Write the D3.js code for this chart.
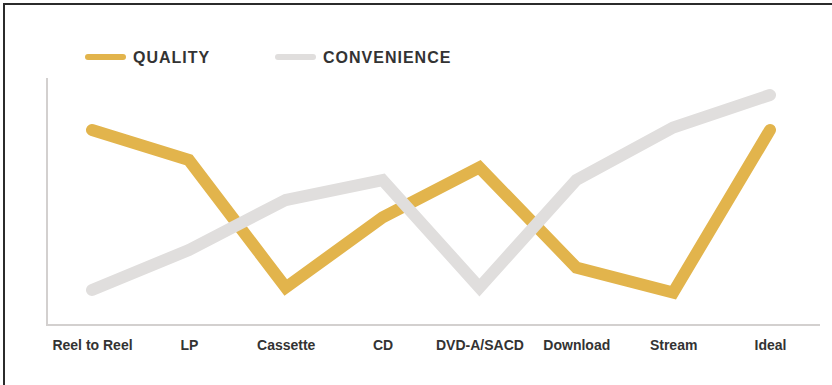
<!DOCTYPE html>
<html>
<head>
<meta charset="utf-8">
<script src="https://cdn.jsdelivr.net/npm/d3@7"></script>
<style>
  body { margin: 0; background: #fff; }
  svg { display: block; font-family: "Liberation Sans", Arial, sans-serif; }
</style>
</head>
<body>
<div id="chart"></div>
<script>
// Data (arbitrary 0-10 scale)
const formats = ["Reel to Reel", "LP", "Cassette", "CD", "DVD-A/SACD", "Download", "Stream", "Ideal"];
const quality = [7.8, 6.6, 1.5, 4.3, 6.3, 2.3, 1.3, 7.8];
const convenience = [1.4, 3.0, 5.0, 5.8, 1.5, 5.8, 7.9, 9.2];
const seriesNames = ["QUALITY", "CONVENIENCE"];

const width = 832, height = 385;
const colors = { QUALITY: "#e2b44c", CONVENIENCE: "#e0dedd" };

const svg = d3.select('#chart').append('svg')
  .attr('width', width)
  .attr('height', height);

// frame (top + left edge only)
svg.append('path')
  .attr('d', `M4,${height} V4 H${width}`)
  .attr('fill', 'none')
  .attr('stroke', '#2b2b2b')
  .attr('stroke-width', 2);

const x = d3.scalePoint().domain(formats).range([92, 770]);
const y = d3.scaleLinear().domain([0, 10]).range([325, 75]);

// axis lines
svg.append('path')
  .attr('d', `M47,78 V325 H820`)
  .attr('fill', 'none')
  .attr('stroke', '#d3d0cf')
  .attr('stroke-width', 2);

// category labels
const xAxis = d3.axisBottom(x).tickSize(0).tickPadding(0);
const gx = svg.append('g')
  .attr('transform', 'translate(0,340)')
  .call(xAxis);
gx.select('.domain').remove();
gx.selectAll('text')
  .attr('dy', '0.71em')
  .attr('font-size', 14)
  .attr('font-weight', 'bold')
  .attr('font-family', '"Liberation Sans", Arial, sans-serif')
  .attr('fill', '#333');

const line = d3.line()
  .x((d, i) => x(formats[i]))
  .y(d => y(d));

// quality first, convenience drawn over it
[["QUALITY", quality], ["CONVENIENCE", convenience]].forEach(([name, vals]) => {
  svg.append('path')
    .datum(vals)
    .attr('fill', 'none')
    .attr('stroke', colors[name])
    .attr('stroke-width', 12)
    .attr('stroke-linecap', 'round')
    .attr('stroke-linejoin', 'miter')
    .attr('d', line);
});

// legend
const legendX = [88, 278];
const legend = svg.append('g');
seriesNames.forEach((name, i) => {
  legend.append('line')
    .attr('x1', legendX[i]).attr('x2', legendX[i] + 35)
    .attr('y1', 57).attr('y2', 57)
    .attr('stroke', colors[name])
    .attr('stroke-width', 6)
    .attr('stroke-linecap', 'round');
  legend.append('text')
    .attr('x', legendX[i] + 45)
    .attr('y', 63)
    .attr('font-size', 16)
    .attr('font-weight', 'bold')
    .attr('letter-spacing', 1)
    .attr('fill', '#333')
    .text(name);
});
</script>
</body>
</html>
